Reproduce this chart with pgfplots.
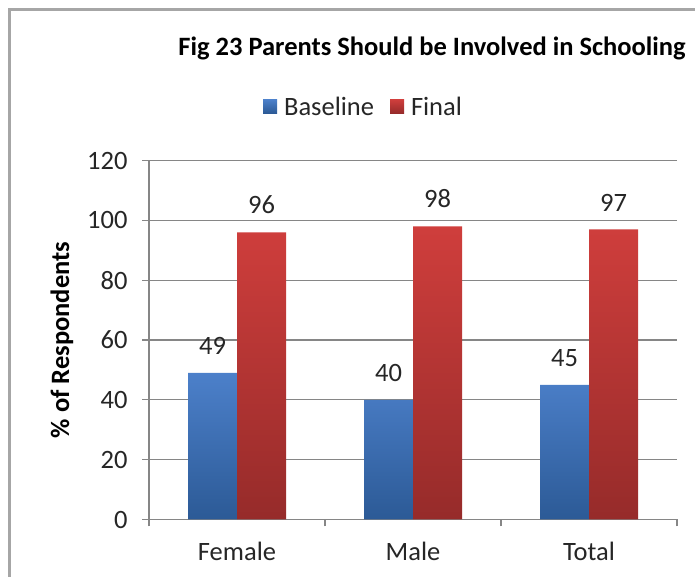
\documentclass[border=0pt]{standalone}
\usepackage{fontspec}
\setmainfont{Carlito}
\usepackage{pgfplots}
\pgfplotsset{compat=1.18}
\definecolor{blueT}{RGB}{76,128,202}
\definecolor{blueB}{RGB}{44,90,150}
\definecolor{redT}{RGB}{207,62,60}
\definecolor{redB}{RGB}{150,43,42}
\definecolor{gridc}{RGB}{134,134,134}
\definecolor{txt}{RGB}{38,38,38}
\newcommand\chartfont{\fontsize{26.5}{30}\selectfont}

\begin{document}
\begin{tikzpicture}
\useasboundingbox (0,0) rectangle (695pt,577pt);
\draw[color=gray!70, line width=2.5pt] (9.5pt,0) -- (9.5pt,567.5pt) -- (695pt,567.5pt);
\begin{axis}[
  at={(149pt,57.5pt)}, anchor=south west,
  scale only axis, width=528pt, height=359pt,
  ybar, bar width=49pt,
  xmin=-0.5, xmax=2.5, ymin=0, ymax=120,
  xtick={-0.5,0.5,1.5,2.5}, xticklabels={},
  extra x ticks={0,1,2}, extra x tick labels={Female,Male,Total},
  extra x tick style={major tick length=0pt},
  ytick={0,20,...,120},
  axis x line*=bottom, axis y line*=left,
  axis line style={gridc, line width=1.3pt, -},
  ymajorgrids, major grid style={gridc, line width=1.3pt},
  tick align=outside, major tick length=7pt,
  tick style={gridc, line width=1.3pt},
  ticklabel style={font=\chartfont, text=txt},
  yticklabel style={xshift=-11pt},
  xticklabel style={yshift=-19pt},
  /pgf/number format/assume math mode=true,
  title={Fig 23 Parents Should be Involved in Schooling},
  title style={font=\bfseries\chartfont, at={(axis description cs:0.536,1.275)}, anchor=base},
  ylabel={\% of Respondents},
  ylabel style={font=\bfseries\chartfont, at={(axis description cs:-0.165,0.5)}, anchor=center},
  nodes near coords,
  every node near coord/.append style={font=\chartfont, text=txt, inner sep=0pt, yshift=18pt},
  legend columns=2,
  legend style={draw=none, fill=none, at={(axis description cs:0.21,1.150)}, anchor=west,
    font=\chartfont, text=txt, /tikz/every even column/.append style={column sep=14pt}},
  legend image code/.code={\path (0pt,0pt) -- (19pt,0pt); \fill[#1] (0pt,-6.5pt) rectangle (14pt,7pt);},
]
\addplot[draw=none, top color=blueT, bottom color=blueB, bar shift=-24.5pt]
  coordinates {(0,49) (1,40) (2,45)};
\addplot[draw=none, top color=redT, bottom color=redB, bar shift=24.5pt]
  coordinates {(0,96) (1,98) (2,97)};
\legend{Baseline,Final}
\end{axis}
\end{tikzpicture}
\end{document}
